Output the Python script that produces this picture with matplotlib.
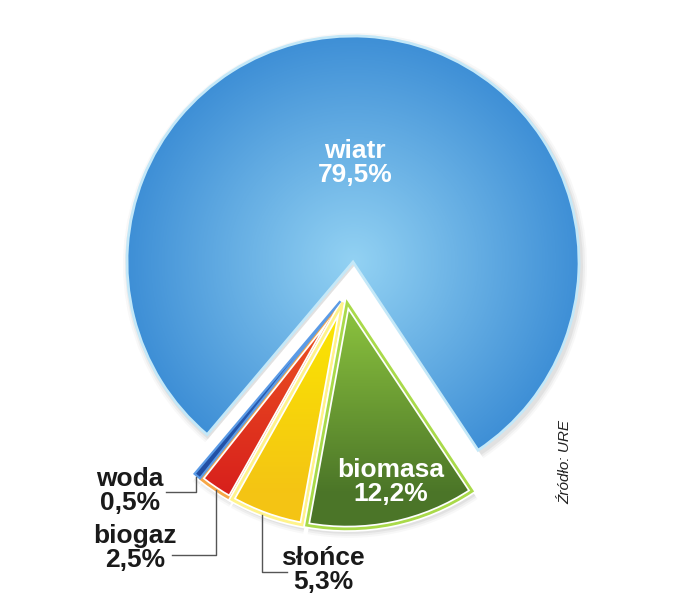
import numpy as np
import matplotlib.pyplot as plt
import matplotlib.patheffects as pe
from matplotlib.patches import Wedge
from matplotlib.colors import LinearSegmentedColormap

# udzial zrodel OZE (moc zainstalowana), zrodlo: URE
names = ['wiatr', 'woda', 'biogaz', 'słońce', 'biomasa']
shares = [79.5, 0.5, 2.5, 5.3, 12.2]

plt.rcParams['font.family'] = ['Liberation Sans', 'DejaVu Sans']

W, H = 700, 600
fig = plt.figure(figsize=(7, 6), dpi=100)
ax = fig.add_axes([0, 0, 1, 1])

cx, cy, r = 353, H - 262, 226
shift = (-7.5, -33)   # small slices pulled out downwards
spread = 8            # and a little apart from each other

wedges, _ = ax.pie(shares, startangle=-56.4, counterclock=True,
                   center=(cx, cy), radius=r, frame=False)
ax.set_xlim(0, W)
ax.set_ylim(0, H)
ax.set_aspect('equal')
ax.axis('off')

for w in wedges[1:]:
    mid = np.deg2rad((w.theta1 + w.theta2) / 2)
    w.set_center((cx + shift[0] + spread * np.cos(mid),
                  cy + shift[1] + spread * np.sin(mid)))

# colours: (inner, outer, outline)
grads = [('#93d2f3', '#3e8fd6', '#c4e8f8'),
         ('#2f6cc4', '#1f4a9e', '#5b9be6'),
         ('#ee5a22', '#d8201c', '#f6a646'),
         ('#fbe800', '#f4c414', '#fff38a'),
         ('#8ec63f', '#4b7528', '#a9da4a')]

yy, xx = np.mgrid[0:H, 0:W]
for i, w in enumerate(wedges):
    c0, c1, edge = grads[i]
    cmap = LinearSegmentedColormap.from_list('g%d' % i, [c0, c1])
    wx, wy = w.center
    if i == 0:
        val = np.hypot(xx - wx, yy - wy) / r
    else:
        # darker towards the outer rim
        val = (wy - yy) / (r * 0.85)
    img = ax.imshow(np.clip(val, 0, 1), cmap=cmap, vmin=0, vmax=1,
                    extent=(0, W, 0, H), origin='lower', zorder=2,
                    interpolation='bilinear')
    img.set_clip_path(w)
    w.set_facecolor('none')
    w.set_edgecolor(edge)
    w.set_linewidth(2.0)
    w.set_zorder(3)
    if i == 1:
        # thin slice: no halo, keep it above the neighbours
        w.set_linewidth(1.6)
        w.set_zorder(3.5)
        img.set_zorder(3.4)
    elif i > 1:
        w.set_path_effects([pe.Stroke(linewidth=4.5, foreground='white'),
                            pe.Normal()])

    # soft shadow
    for k, a in enumerate([0.08, 0.06, 0.04]):
        sh = Wedge((wx + 2, wy - 3), r + 2 + 2 * k, w.theta1, w.theta2,
                   facecolor='#555555', alpha=a, edgecolor='none', zorder=1)
        ax.add_patch(sh)

def pct(v):
    return ('%.1f%%' % v).replace('.', ',')

# labels inside slices
ax.text(355, H - 163, names[0] + '\n' + pct(shares[0]), color='white',
        fontsize=19, fontweight='bold', ha='center', va='center',
        linespacing=1.0, zorder=5)
ax.text(391, H - 482, names[4] + '\n' + pct(shares[4]), color='white',
        fontsize=19, fontweight='bold', ha='center', va='center',
        linespacing=1.0, zorder=5)

# labels outside with leader lines
outside = {1: ((130, 491), [(196, 477), (196, 492), (166, 492)]),
           2: ((135, 548), [(216, 490), (216, 555), (172, 555)]),
           3: ((323, 570), [(262, 515), (262, 572), (287, 572)])}
for i, (pos, line) in outside.items():
    ax.text(pos[0], H - pos[1], names[i] + '\n' + pct(shares[i]),
            color='#1a1a1a', fontsize=19, fontweight='bold',
            ha='center', va='center', linespacing=1.0, zorder=5)
    lx = [p[0] for p in line]
    ly = [H - p[1] for p in line]
    ax.plot(lx, ly, color='#555555', lw=1.0, zorder=4)

ax.text(565, H - 462, 'Źródło: URE', rotation=90, fontsize=11,
        style='italic', color='#222222', ha='center', va='center')

fig.savefig('out.png', dpi=100, facecolor='white')
